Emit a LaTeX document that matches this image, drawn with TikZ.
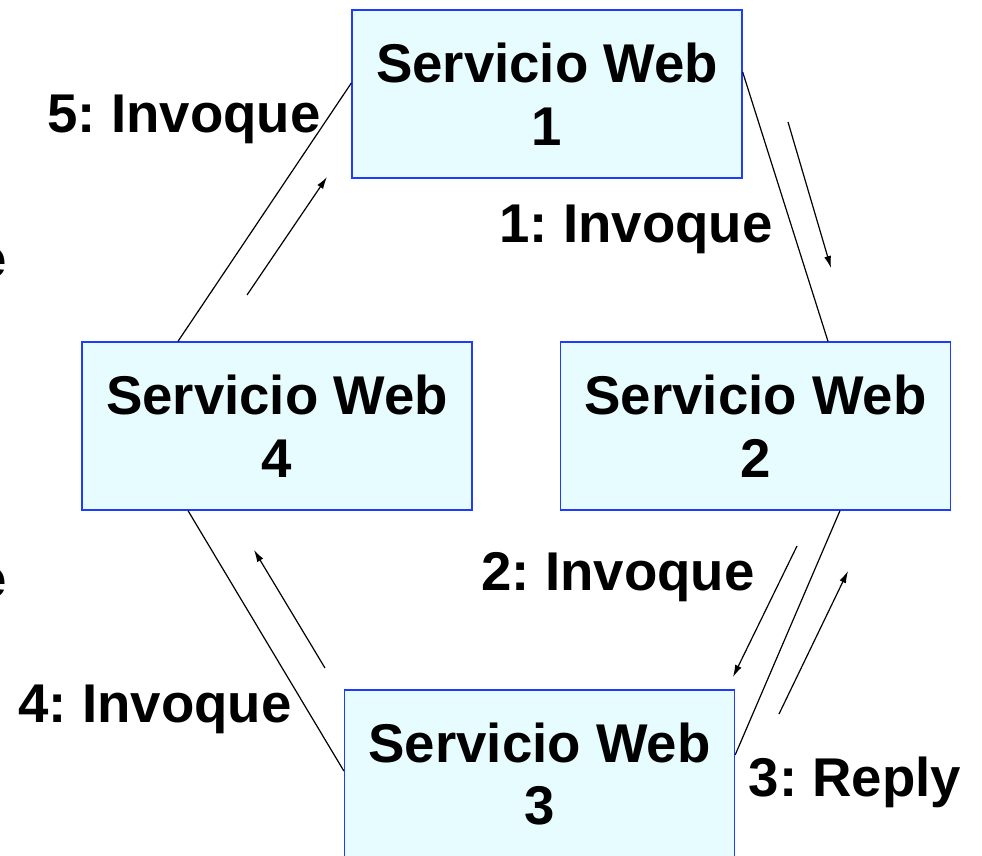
\documentclass[tikz,border=0pt]{standalone}
\usepackage{fontspec}
\setmainfont{Liberation Sans}
\usetikzlibrary{arrows.meta}
\definecolor{boxfill}{RGB}{230,252,254}
\definecolor{boxdraw}{RGB}{30,60,255}
\tikzset{
  wsbox/.style={draw=boxdraw, line width=1.3pt, fill=boxfill, minimum width=390pt, minimum height=168pt,
    align=center, inner sep=0pt, font=\fontsize{54.6pt}{62.5pt}\selectfont\bfseries},
  lbl/.style={anchor=base, inner sep=0pt, font=\fontsize{54.6pt}{62.5pt}\selectfont\bfseries},
  link/.style={line width=1.2pt},
  msg/.style={line width=1.2pt, -{Latex[length=12pt,width=7pt]}}
}
\frenchspacing
\begin{document}
\frenchspacing
\begin{tikzpicture}[x=1pt,y=-1pt]
\clip (0,0) rectangle (982,856);
\useasboundingbox (0,0) rectangle (982,856);
\fill[white] (0,0) rectangle (982,856);

\node[wsbox] (b1) at (547,94) {Servicio Web\\1};
\node[wsbox] (b2) at (755.5,426) {Servicio Web\\2};
\node[wsbox] (b4) at (277,426) {Servicio Web\\4};
\node[wsbox] (b3) at (539.5,774) {Servicio Web\\3};

% links between services
\draw[link] ([yshift=22pt]b1.east) -- ([xshift=72.5pt]b2.north);
\draw[link] ([xshift=84.5pt]b2.south) -- ([yshift=19pt]b3.east);
\draw[link] ([xshift=-89pt]b4.south) -- ([yshift=3pt]b3.west);
\draw[link] ([xshift=-99pt]b4.north) -- ([yshift=11pt]b1.west);

% message arrows
\coordinate (a1s) at (788,122); \coordinate (a1e) at (831,268);
\coordinate (a2s) at (797,546); \coordinate (a2e) at (733,677);
\coordinate (a3s) at (779,714); \coordinate (a3e) at (848,571);
\coordinate (a4s) at (325,668); \coordinate (a4e) at (254,550);
\coordinate (a5s) at (247,295); \coordinate (a5e) at (327,177);
\draw[msg] (a1s) -- (a1e);
\draw[msg] (a2s) -- (a2e);
\draw[msg] (a3s) -- (a3e);
\draw[msg] (a4s) -- (a4e);
\draw[msg] (a5s) -- (a5e);

% labels
\node[lbl] (l5) at (184,132) {5: Invoque};
\node[lbl] (l1) at (636,242) {1: Invoque};
\node[lbl] (l2) at (618,590) {2: Invoque};
\node[lbl] (l4) at (155,722) {4: Invoque};
\node[lbl] (l3) at (855,796) {3: Reply};

% cut-off letters at the left edge
\node[lbl] (e1) at (-8,277) {e};
\node[lbl] (e2) at (-8,597) {e};
\end{tikzpicture}
\end{document}
